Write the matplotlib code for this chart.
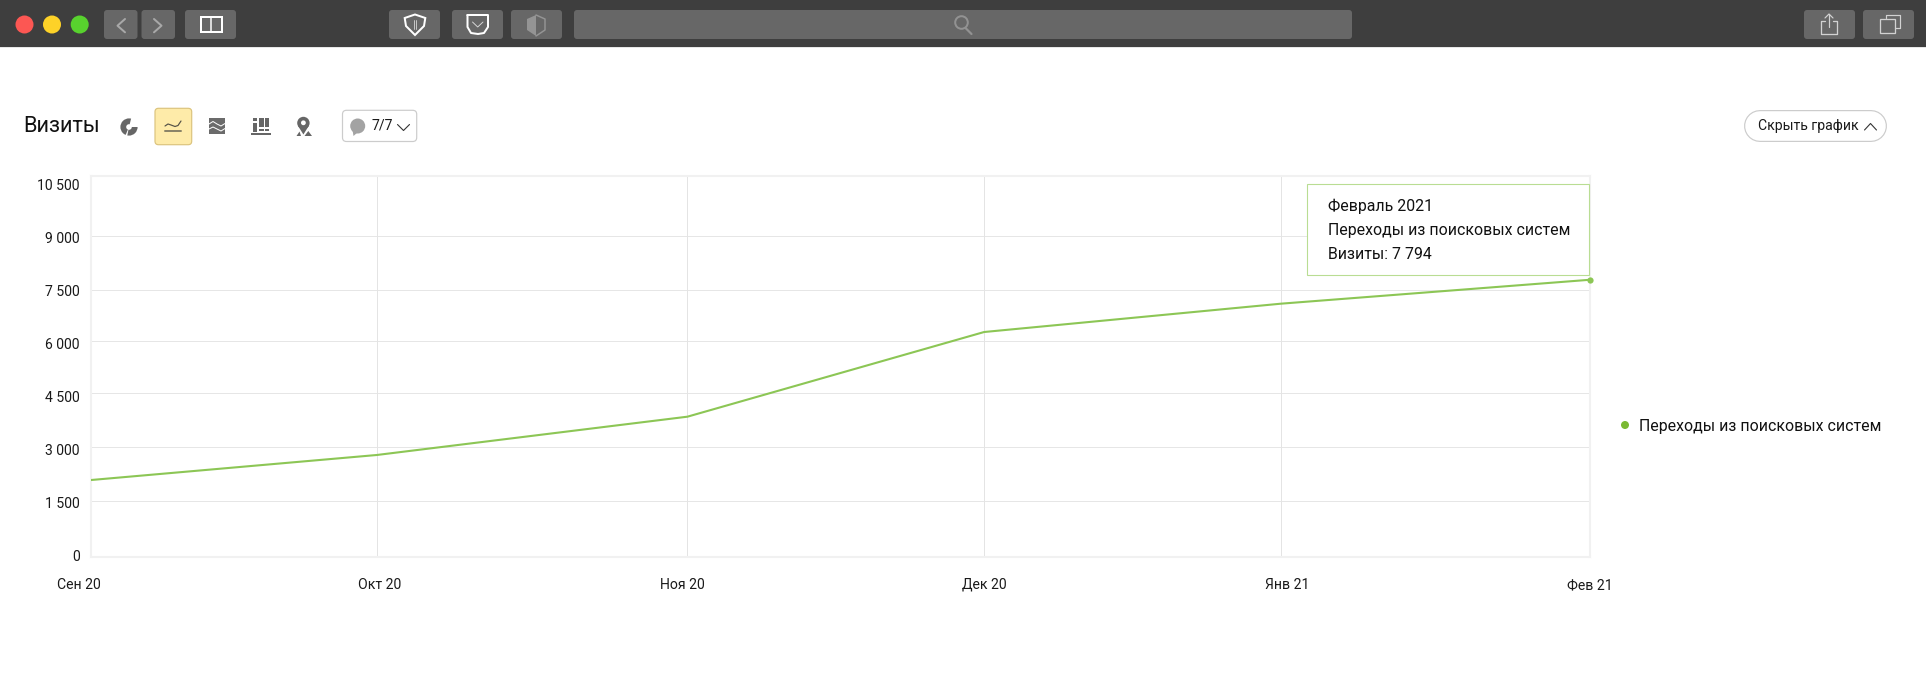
import matplotlib
matplotlib.use("Agg")
import matplotlib.pyplot as plt
from matplotlib.patches import FancyBboxPatch, Rectangle, Circle, Polygon
from matplotlib.transforms import ScaledTranslation

# ---- data ----
month_labels = ["Сен 20", "Окт 20", "Ноя 20", "Дек 20", "Янв 21", "Фев 21"]
month_days = [0, 28.8, 60.1, 90, 119.9, 151]
visits = [2138, 2845, 3927, 6319, 7119, 7794]
y_ticks = [0, 1500, 3000, 4500, 6000, 7500, 9000, 10500]
y_tick_labels = ["0", "1 500", "3 000", "4 500", "6 000", "7 500", "9 000", "10 500"]
# the reference's gridlines sit slightly off its tick labels
grid_levels = [1537, 3062, 4588, 6056, 7497, 9023]
series_name = "Переходы из поисковых систем"
tooltip_lines = ["Февраль 2021", series_name, "Визиты: 7 794"]
# horizontal nudges of the month labels, in pixels
label_nudges = [-12, 2.5, -5.5, 0, 6, 0]

W, H = 1926, 673
plt.rcParams["font.family"] = ["Roboto", "DejaVu Sans"]
fig = plt.figure(figsize=(W / 100, H / 100), dpi=100, facecolor="white")

# ---- chart ----
L, R, T, B = 91, 1589.5, 176, 556.7
ax = fig.add_axes([L / W, 1 - B / H, (R - L) / W, (B - T) / H], zorder=1)
ax.set_xlim(month_days[0], month_days[-1])
ax.set_ylim(-28, 10726)
for s in ax.spines.values():
    s.set_color("#f1f1f1")
    s.set_linewidth(1.5)
ax.hlines(grid_levels, month_days[0], month_days[-1], color="#e6e6e6", lw=0.72, zorder=1)
ax.vlines(month_days[1:-1], -28, 10726, color="#e4e4e4", lw=0.72, zorder=1)
LINE = "#8cc655"
ax.plot(month_days, visits, color=LINE, lw=1.5, zorder=3, solid_joinstyle="round")
ax.plot(month_days[-1:], visits[-1:], "o", color=LINE, ms=4.5, mew=0, zorder=4, clip_on=False)
ax.set_yticks(y_ticks, y_tick_labels)
ax.set_xticks(month_days, month_labels)
ax.tick_params(axis="y", length=0, pad=8, labelsize=10.1, labelcolor="#1a1a1a")
ax.tick_params(axis="x", length=0, pad=15.3, labelsize=10.1, labelcolor="#1a1a1a")
for lab, dx in zip(ax.get_xticklabels(), label_nudges):
    lab.set_transform(lab.get_transform() + ScaledTranslation(dx / 100, 0, fig.dpi_scale_trans))

# ---- interface chrome, in reference pixels ----
ui = fig.add_axes([0, 0, 1, 1], zorder=2)
ui.set_xlim(0, W)
ui.set_ylim(H, 0)
ui.axis("off")
PX = 0.72


def rbox(x0, x1, y0, y1, r=3, fc="#676767", ec="none", lw=0.0, z=2):
    ui.add_patch(FancyBboxPatch((x0 + r, y0 + r), x1 - x0 - 2 * r, y1 - y0 - 2 * r,
                                boxstyle=f"round,pad={r},rounding_size={r}",
                                fc=fc, ec=ec, lw=lw * PX, zorder=z))


def pl(xs, ys, c="white", lw=2, z=3):
    ui.plot(xs, ys, color=c, lw=lw * PX, zorder=z, solid_capstyle="round", solid_joinstyle="round")


def poly(pts, fc="white", ec="none", lw=0, z=3):
    ui.add_patch(Polygon(pts, closed=True, fc=fc, ec=ec, lw=lw * PX, zorder=z))


# top bar
ui.add_patch(Rectangle((0, 0), W, 47, fc="#3e3e3e", ec="none", zorder=1))
ui.add_patch(Rectangle((0, 47), W, 1.3, fc="#e6e6e6", ec="none", zorder=1))
for cx, col in [(24.5, "#fc5753"), (52, "#fdd228"), (79.7, "#58d22e")]:
    ui.add_patch(Circle((cx, 24.5), 9, fc=col, ec="none", zorder=2))
for x0, x1 in [(104, 137.5), (141.5, 175), (185, 236), (389, 440), (452, 503), (511, 562),
               (574, 1352), (1804, 1855), (1863, 1914)]:
    rbox(x0, x1, 10, 39)
pl([125, 117.5, 125], [19, 25.7, 32.3], "#a8a8a8", 2)
pl([154, 161.5, 154], [19, 25.7, 32.3], "#a8a8a8", 2)
ui.add_patch(Rectangle((201, 16.8), 20.6, 15.4, fc="none", ec="white", lw=2 * PX, zorder=3))
pl([211.3, 211.3], [16.8, 32.2], "white", 1.5)
# shields
poly([(404.7, 18), (415, 14.5), (425.3, 18), (424, 26), (415, 35), (406, 26)], "none", "white", 2)
pl([413.6, 413.6], [20, 29], "#dddddd", 0.8)
pl([416, 416], [20, 29], "#dddddd", 0.8)
pl([467.5, 488, 488, 484, 478, 471, 467.5, 467.5], [15, 15, 27, 33, 34, 33, 27, 15], "white", 2)
pl([472.5, 477.7, 483], [22, 27, 22], "#dddddd", 0.9)
poly([(536, 15), (527, 19), (527, 30), (536, 36)], "#949494")
pl([536, 545, 545, 536], [15, 19, 30, 36], "#949494", 1.5)
# search
ui.add_patch(Circle((961.5, 22.5), 6.3, fc="none", ec="#929292", lw=2 * PX, zorder=3))
pl([965.5, 971.5], [28, 34], "#929292", 2.2)
# share
pl([1825, 1820.5, 1820.5, 1837, 1837, 1832.5], [21, 21, 33.5, 33.5, 21, 21], "#d2d2d2", 1.3)
pl([1829, 1829], [14, 27], "#d2d2d2", 1.2)
pl([1825, 1829, 1833], [18, 14, 18], "#d2d2d2", 1.2)
# tabs
pl([1886, 1886, 1899.6, 1899.6, 1894.5], [18, 15, 15, 28, 28], "#d2d2d2", 1.2)
ui.add_patch(Rectangle((1880, 18.5), 14.5, 14.5, fc="none", ec="#d2d2d2", lw=1.3 * PX, zorder=3))

# toolbar
ui.text(23.5, 127, "Визиты", fontsize=15.7, ha="left", va="center", color="#111111")
GREY = "#666666"
# pie icon
ui.add_patch(Circle((129, 127), 8.6, fc=GREY, ec="none", zorder=3))
ui.add_patch(Circle((129, 127), 2.8, fc="white", ec="none", zorder=4))
poly([(129, 127), (131.5, 117), (139, 121.5), (138, 127)], "white", z=4)
poly([(129, 127), (127, 137), (125, 136.5)], "white", z=4)
# selected line icon
rbox(155, 191.7, 108.3, 144.7, r=3.5, fc="#feeba9", ec="#dcc47e", lw=1.2)
pl([165, 168, 171, 175, 178, 181], [126, 124, 125, 126.5, 125.5, 121], "#555247", 1.2)
pl([165, 181], [131, 131], "#8b8468", 2)
# stacked icon
ui.add_patch(Rectangle((209, 118), 16, 16, fc="#6b6b6b", ec="none", zorder=3))
pl([209, 213, 217, 221, 225], [124, 121.5, 124, 126, 123.5], "white", 1)
pl([209, 213, 217, 221, 225], [129, 127, 129, 131, 128.5], "white", 1)
# bars icon
for x0, x1, y0, y1 in [(253, 257, 123, 131.5), (253, 257, 118, 121), (259.3, 263.5, 117.5, 127),
                       (259.3, 263.5, 128.8, 131.5), (265.2, 269.4, 117.5, 127), (265.2, 269.4, 128.8, 131.5)]:
    ui.add_patch(Rectangle((x0, y0), x1 - x0, y1 - y0, fc=GREY, ec="none", zorder=3))
ui.add_patch(Rectangle((251, 133), 20, 2, fc=GREY, ec="none", zorder=3))
# pin icon
ui.add_patch(Circle((303.4, 123), 6.2, fc=GREY, ec="none", zorder=3))
poly([(297.8, 125.5), (309, 125.5), (303.4, 134.5)], GREY)
ui.add_patch(Circle((303.4, 122.8), 2.4, fc="white", ec="none", zorder=4))
poly([(296.5, 136), (301, 136), (299.5, 131.5)], GREY)
poly([(304.5, 136), (312, 136), (308.3, 131)], GREY)
# comments dropdown
rbox(342.5, 416.7, 110.3, 141.5, r=4, fc="white", ec="#cccccc", lw=1.2)
ui.add_patch(Circle((357.7, 126), 7.5, fc="#a3a3a3", ec="none", zorder=3))
poly([(352.5, 130), (358, 132), (353.5, 136)], "#a3a3a3")
ui.text(371.5, 125.5, "7/7", fontsize=10.1, ha="left", va="center", color="#1a1a1a", zorder=3)
pl([397.5, 403.5, 409.5], [124.5, 130.5, 124.5], "#333333", 1.1)
# hide-chart button: a pill made of two round-capped strokes
pl([1759.5, 1870.6], [126, 126], "#cccccc", 32, z=2)
pl([1759.5, 1870.6], [126, 126], "white", 29.6, z=2.1)
ui.text(1757.8, 126, "Скрыть график", fontsize=10.1, ha="left", va="center", color="#1a1a1a", zorder=3)
pl([1864.5, 1870.5, 1876.5], [130, 123.5, 130], "#333333", 1.1)

# tooltip
ui.add_patch(Rectangle((1307.3, 184), 281.7, 90.7, fc="white", ec="#b9dd93", lw=1.1 * PX, zorder=3))
for y, s in zip([206.7, 231, 254.7], tooltip_lines):
    ui.text(1328.4, y, s, fontsize=11.4, ha="left", va="center", color="#111111", zorder=4)

# legend
ui.add_patch(Circle((1625, 425), 4, fc="#7ab933", ec="none", zorder=3))
ui.text(1639.3, 426, series_name, fontsize=11.4, ha="left", va="center", color="#111111", zorder=3)

ui.set_xlim(0, W)
ui.set_ylim(H, 0)
fig.savefig("out.png", dpi=100, facecolor="white")
